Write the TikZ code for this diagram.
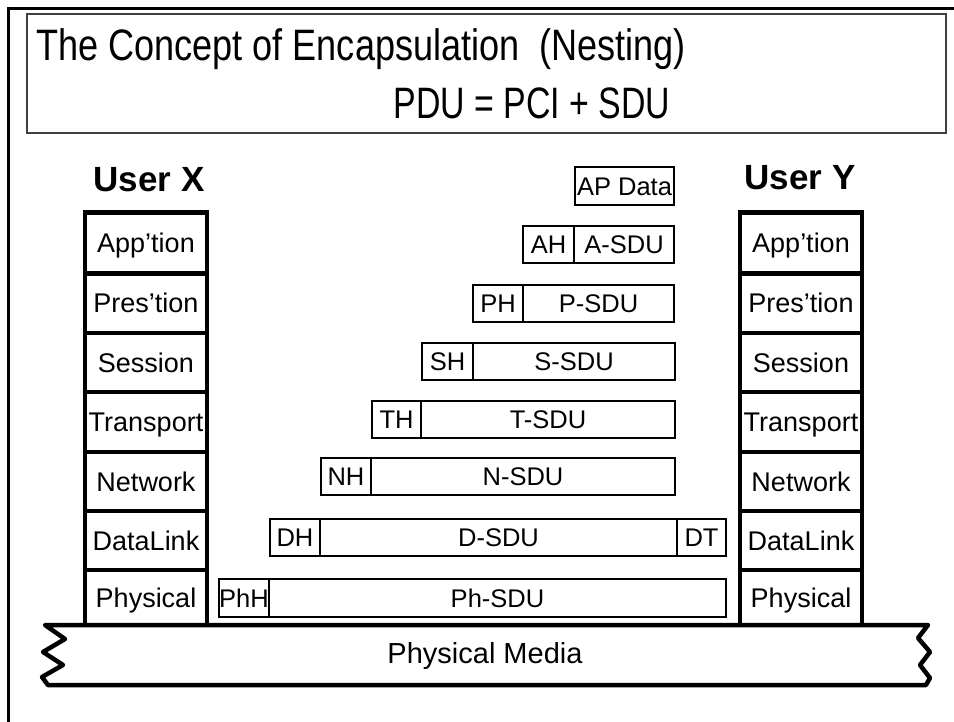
\documentclass[tikz,border=0pt]{standalone}
\usepackage{fontspec}
\setmainfont{Liberation Sans}
\begin{document}
\begin{tikzpicture}[x=1pt,y=-1pt,
  layer/.style={draw, line width=4.5pt, minimum width=122pt, inner sep=0pt, text height=19.3pt, text depth=0pt, font=\fontsize{27}{27}\selectfont},
  cell/.style={draw, line width=1.3pt, minimum height=37pt, inner sep=0pt, text height=18.2pt, text depth=0pt, font=\fontsize{25.5}{25.5}\selectfont},
  user/.style={font=\fontsize{35}{35}\selectfont\bfseries, inner sep=0pt},
  frame/.style={line width=3pt},
  titlebox/.style={draw=black!75, line width=1.2pt},
  titletext/.style={inner sep=0pt, font=\fontsize{44}{44}\selectfont},
  media/.style={draw, line width=4.5pt, line join=round, fill=white},
]
\useasboundingbox (0,0) rectangle (954,722);
% outer frame
\draw[frame] (954,8.5) -- (8.5,8.5) -- (8.5,722);
% title
\draw[titlebox] (27,14) rectangle (946,133);
\node[titletext, anchor=base west] (t1) at (36,61) {\scalebox{0.82}[1]{The Concept of Encapsulation\ \ (Nesting)}};
\node[titletext, anchor=base] (t2) at (532,119) {\scalebox{0.77}[1]{PDU = PCI + SDU}};
% users
\node[user] (ux) at (149,180) {User X};
\node[user] (uy) at (800,178) {User Y};
% physical media
\draw[media] (45,625) -- (928,625) -- (918,638) -- (930,652) -- (920,665) -- (930,678) -- (926,685)
  -- (48,685) -- (42,677) -- (63,665) -- (43,652) -- (65,639) -- cycle;
\node[inner sep=0pt, font=\fontsize{29}{29}\selectfont] (pm) at (485,656) {Physical Media};
% left stack
\node[layer, minimum height=61pt] (xa) at (146,243) {App’tion};
\node[layer, minimum height=60pt] (xp) at (146,303) {Pres’tion};
\node[layer, minimum height=59pt] (xs) at (146,362.5) {Session};
\node[layer, minimum height=60pt] (xt) at (146,422) {Transport};
\node[layer, minimum height=59pt] (xn) at (146,481.5) {Network};
\node[layer, minimum height=59pt] (xd) at (146,540.5) {DataLink};
\node[layer, minimum height=55pt] (xh) at (146,597.5) {Physical};
% right stack
\node[layer, minimum height=61pt] (ya) at (801,243) {App’tion};
\node[layer, minimum height=60pt] (yp) at (801,303) {Pres’tion};
\node[layer, minimum height=59pt] (ys) at (801,362.5) {Session};
\node[layer, minimum height=60pt] (yt) at (801,422) {Transport};
\node[layer, minimum height=59pt] (yn) at (801,481.5) {Network};
\node[layer, minimum height=59pt] (yd) at (801,540.5) {DataLink};
\node[layer, minimum height=55pt] (yh) at (801,597.5) {Physical};
% PDUs
\node[cell, minimum width=99pt, minimum height=38pt] (apd) at (624.5,186) {AP Data};
\node[cell, minimum width=51pt] (ah) at (548.5,244.5) {AH};
\node[cell, minimum width=100pt] (asdu) at (624,244.5) {A-SDU};
\node[cell, minimum width=50pt] (ph) at (498,303.5) {PH};
\node[cell, minimum width=151pt] (psdu) at (598.5,303.5) {P-SDU};
\node[cell, minimum width=51pt] (sh) at (447.5,361.5) {SH};
\node[cell, minimum width=202pt] (ssdu) at (574,361.5) {S-SDU};
\node[cell, minimum width=49pt] (th) at (396.5,419.5) {TH};
\node[cell, minimum width=254pt] (tsdu) at (548,419.5) {T-SDU};
\node[cell, minimum width=50pt] (nh) at (346,476.5) {NH};
\node[cell, minimum width=304pt] (nsdu) at (523,476.5) {N-SDU};
\node[cell, minimum width=50pt] (dh) at (295,537.5) {DH};
\node[cell, minimum width=357pt] (dsdu) at (498.5,537.5) {D-SDU};
\node[cell, minimum width=49pt] (dt) at (701.5,537.5) {DT};
\node[cell, minimum width=50pt, minimum height=38pt] (phh) at (244,598) {PhH};
\node[cell, minimum width=457pt, minimum height=38pt] (phsdu) at (497.5,598) {Ph-SDU};
\end{tikzpicture}
\end{document}
